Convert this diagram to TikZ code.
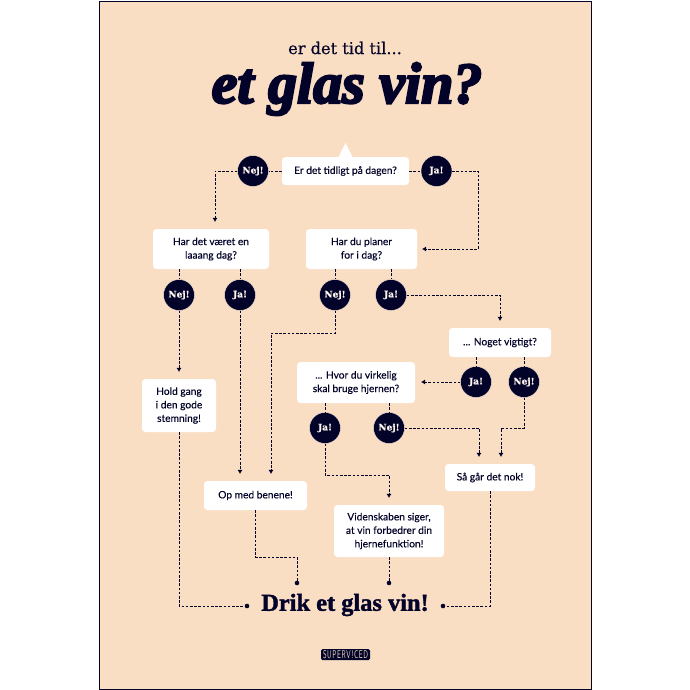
\documentclass[tikz,border=0pt]{standalone}
\usepackage{fontspec}
\setmainfont[FakeBold=0.2]{Lato}
\newfontfamily\serifbold[FakeBold=0.8]{DejaVu Serif}
\newfontfamily\serifplain[FakeBold=0.3]{DejaVu Serif}
\newfontfamily\titlefont[FakeBold=4]{Liberation Serif}
\newfontfamily\drinkfont[FakeBold=1.6]{Liberation Serif}
\newfontfamily\logofont[LetterSpace=10]{Latin Modern Sans}
\usetikzlibrary{arrows.meta}
\definecolor{poster}{HTML}{F9DEC4}
\definecolor{ink}{HTML}{03032A}
\tikzset{
  x=1pt,y=-1pt,
  qbox/.style={fill=white,rounded corners=3.5pt,inner sep=0pt,align=center,text=ink,font=\fontsize{10.2}{13.5}\selectfont},
  ans/.style={circle,fill=ink,draw=poster!60!white,line width=0.4pt,minimum size=31pt,inner sep=0pt,text=poster!30!white,font=\serifbold\bfseries\fontsize{9}{10}\selectfont},
  link/.style={draw=ink,line width=1pt,dash pattern=on 2.6pt off 1.6pt},
  toarrow/.style={link,-{Latex[length=4.2pt,width=4.8pt,line width=0pt]}},
  enddot/.style={circle,fill=ink,minimum size=4.6pt,inner sep=0pt},
}
\begin{document}
\begin{tikzpicture}
\useasboundingbox (0,0) rectangle (690,690);
\fill[white] (0,0) rectangle (690,690);
\draw[fill=poster,draw=ink,line width=0.8pt] (99,1) rectangle (591,689);
\node[text=ink,font=\serifplain\fontsize{16.2}{18}\selectfont] (sup) at (345,48) {er det tid til...};
\node[text=ink,font=\titlefont\bfseries\itshape\fontsize{58}{60}\selectfont] (title) at (347,89) {et glas vin?};
% boxes
\fill[white] (338,158) -- (345.5,143) -- (353,158) -- cycle;
\node[qbox,minimum width=127pt,minimum height=28pt] (start) at (345.5,171) {Er det tidligt på dagen?};
\node[qbox,minimum width=116pt,minimum height=40pt] (long) at (211,249) {Har det været en\\laaang dag?};
\node[qbox,minimum width=111pt,minimum height=40pt] (plans) at (361.5,249) {Har du planer\\for i dag?};
\node[qbox,minimum width=102pt,minimum height=29pt] (vig) at (500,342.5) {... Noget vigtigt?};
\node[qbox,minimum width=118pt,minimum height=41pt] (brain) at (356,382.5) {... Hvor du virkelig\\skal bruge hjernen?};
\node[qbox,minimum width=74pt,minimum height=53pt] (hold) at (179,405.5) {Hold gang\\i den gode\\stemning!};
\node[qbox,minimum width=103pt,minimum height=29pt] (legs) at (255.5,495.5) {Op med benene!};
\node[qbox,minimum width=110pt,minimum height=52pt] (sci) at (389,531) {Videnskaben siger,\\at vin forbedrer din\\hjernefunktion!};
\node[qbox,minimum width=90pt,minimum height=27pt] (fine) at (490,477.5) {Så går det nok!};
% answers
\node[ans] (n0) at (253,171) {Nej!};
\node[ans] (j0) at (436.5,171) {Ja!};
\node[ans] (n1) at (179,295) {Nej!};
\node[ans] (j1) at (240,295) {Ja!};
\node[ans] (n2) at (335,295) {Nej!};
\node[ans] (j2) at (391,295) {Ja!};
\node[ans] (j3) at (476,382) {Ja!};
\node[ans] (n3) at (524,382) {Nej!};
\node[ans] (j4) at (325,428) {Ja!};
\node[ans] (n4) at (389,428) {Nej!};
% final
\node[text=ink,font=\drinkfont\bfseries\fontsize{24.4}{26}\selectfont] (drink) at (345,605) {Drik et glas vin!};
\node[fill=ink,rounded corners=1.5pt,text=poster,inner sep=0pt,minimum width=49pt,minimum height=11pt] (logo) at (345.5,654.5) {\resizebox{45pt}{8pt}{\logofont SUPERV!CED}};
% dots
\node[enddot] (d0) at (247,606) {};
\node[enddot] (d1) at (443,606) {};
\node[enddot] (d2) at (297,583) {};
\node[enddot] (d3) at (389,583) {};
% free ends
\coordinate (a0) at (215,222);
\coordinate (a1) at (422,249);
\coordinate (a2) at (179,372);
\coordinate (a3) at (240,474);
\coordinate (a4) at (271,474);
\coordinate (a5) at (500,321);
\coordinate (a6) at (421,382);
\coordinate (a7) at (479,457);
\coordinate (a8) at (501,457);
\coordinate (a9) at (389,498);
% connectors
\draw[link] (start.west) -- (n0.east);
\draw[toarrow] (n0.west) -| (a0);
\draw[link] (start.east) -- (j0.west);
\draw[toarrow] (j0.east) -| (478,249) -- (a1);
\draw[link] (n1 |- long.south) -- (n1.north);
\draw[link] (j1 |- long.south) -- (j1.north);
\draw[link] (n2 |- plans.south) -- (n2.north);
\draw[link] (j2 |- plans.south) -- (j2.north);
\draw[toarrow] (n1.south) -- (a2);
\draw[toarrow] (j1.south) -- (a3);
\draw[toarrow] (n2.south) |- (271,333) -- (a4);
\draw[toarrow] (j2.east) -| (a5);
\draw[link] (j3 |- vig.south) -- (j3.north);
\draw[link] (n3 |- vig.south) -- (n3.north);
\draw[toarrow] (j3.west) -- (a6);
\draw[link] (j4 |- brain.south) -- (j4.north);
\draw[link] (n4 |- brain.south) -- (n4.north);
\draw[toarrow] (n4.east) -| (a7);
\draw[toarrow] (n3.south) |- (501,428) -- (a8);
\draw[toarrow] (j4.south) |- (389,475) -- (a9);
\draw[link] (hold.south) |- (d0.west);
\draw[link] (fine.south) |- (d1.east);
\draw[link] (legs.south) |- (297,557) -- (d2.north);
\draw[link] (sci.south) -- (d3.north);
\end{tikzpicture}
\end{document}
